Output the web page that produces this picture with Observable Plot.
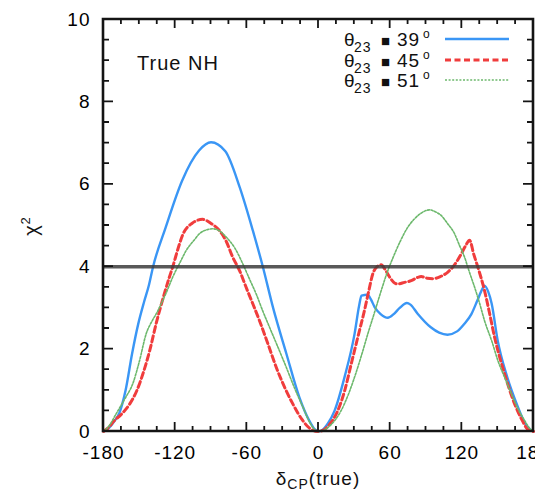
<!DOCTYPE html>
<html>
<head>
<meta charset="utf-8">
<script src="https://cdn.jsdelivr.net/npm/d3@7"></script>
<script src="https://cdn.jsdelivr.net/npm/@observablehq/plot@0.6"></script>
<style>
  html, body { margin: 0; padding: 0; background: #fff; }
</style>
</head>
<body>
<div id="chart"></div>
<script>
// ---- data ----
const xTicks = [-180, -120, -60, 0, 60, 120, 180];
const yTicks = [0, 2, 4, 6, 8, 10];
const threshold = [4];

const theta39 = [[-180,0],[-175,0.1],[-171,0.25],[-166.7,0.45],[-161.5,1.0],[-156,1.9],[-151,2.6],[-146,3.15],[-142,3.55],[-138.5,4.0],[-128,4.95],[-114,6.1],[-100,6.82],[-90,7.02],[-78,6.8],[-66,5.93],[-55,4.88],[-46.6,4.0],[-38,3.0],[-27,1.9],[-16,0.83],[-8,0.28],[-3,0.05],[0,0],
  [3,0.03],[8,0.2],[13.4,0.5],[21.8,1.32],[30.2,2.37],[34,3.05],[36,3.3],[41,3.32],[44,3.2],[47,3.02],[52,2.85],[58,2.76],[63,2.85],[68,3.0],[74,3.12],[77,3.08],[83,2.86],[94,2.53],[101,2.4],[108,2.35],[116,2.43],[122,2.61],[128,2.85],[133,3.18],[137,3.45],[139,3.54],[142,3.4],[145,3.1],[150,2.21],[158,1.32],[167,0.59],[172,0.25],[177,0.05],[180,0]];

const theta45 = [[-180,0],[-175,0.12],[-172,0.23],[-165,0.42],[-158,0.67],[-152,1.0],[-147,1.4],[-141,2.0],[-136,2.61],[-130,3.25],[-124.8,3.75],[-122,4.0],[-118,4.4],[-113.6,4.78],[-106,5.05],[-97,5.15],[-90,5.05],[-83,4.88],[-77,4.6],[-71.8,4.23],[-66,3.9],[-60.6,3.5],[-55,3.1],[-49.4,2.69],[-42,2.1],[-35.4,1.56],[-28,1.05],[-21.5,0.67],[-14,0.3],[-7.5,0.08],[0,0],
  [5,0.05],[10,0.2],[16.2,0.51],[22,1.0],[27.4,1.64],[33,2.3],[38.5,2.94],[42,3.4],[45.5,3.83],[49,4.0],[52.5,4.05],[56,3.92],[59.5,3.75],[63,3.62],[66.4,3.58],[72,3.62],[77.6,3.66],[83,3.74],[86,3.76],[91,3.72],[95.7,3.71],[102,3.76],[108.3,3.87],[114,4.05],[119.5,4.31],[123,4.5],[126.5,4.64],[130,4.3],[133.4,3.99],[139,3.42],[143,2.9],[147.4,2.29],[155.8,1.4],[164.2,0.67],[170,0.3],[175.3,0.05],[180,0]];

const theta51 = [[-180,0],[-175,0.15],[-169.4,0.43],[-162,0.8],[-155.5,1.16],[-150,1.7],[-144.3,2.37],[-139,2.7],[-135,2.9],[-133,3.02],[-127,3.4],[-122,3.75],[-116,4.1],[-110.8,4.39],[-104,4.65],[-99.7,4.8],[-93,4.9],[-88.5,4.92],[-83,4.87],[-77.3,4.72],[-70,4.45],[-63.4,4.07],[-57,3.65],[-52.2,3.34],[-47,2.95],[-41,2.53],[-34,2.05],[-27,1.56],[-20,1.05],[-13,0.59],[-7,0.2],[-3,0.04],[0,0],
  [5,0.04],[10,0.15],[19,0.51],[25,0.9],[30.2,1.32],[36,1.85],[41.3,2.37],[47,2.9],[52.5,3.42],[58,3.9],[63.7,4.31],[69,4.65],[74.8,4.96],[80,5.15],[86,5.3],[93,5.38],[98,5.33],[102.8,5.24],[108,5.05],[113.9,4.8],[118,4.52],[122.3,4.23],[126,3.9],[130.7,3.5],[135,3.1],[139,2.69],[145,2.2],[150.2,1.72],[156,1.3],[161.4,0.92],[167,0.55],[172.5,0.27],[177,0.07],[180,0]];

const seriesLabels = ["39", "45", "51"];
const seriesData = [theta39, theta45, theta51];

// ---- layout / styles ----
const W = 535, H = 492;
const mL = 103, mR = 2, mT = 19, mB = 61;
const xDom = [-180, 180], yDom = [0, 10];

const styles = [
  {stroke: "#3a96f5", strokeWidth: 2.4, strokeDasharray: null},
  {stroke: "#f03c3c", strokeWidth: 3, strokeDasharray: "6,3.5"},
  {stroke: "#6cb86c", strokeWidth: 1.6, strokeDasharray: "2,1.6"}
];

const xMinor = d3.range(-180, 181, 15);
const yMinor = d3.range(0, 10.01, 0.5);

const lineMarks = seriesData.map((data, i) => Plot.line(data, {
  x: d => d[0], y: d => d[1],
  stroke: styles[i].stroke, strokeWidth: styles[i].strokeWidth,
  strokeDasharray: styles[i].strokeDasharray || undefined,
  curve: "monotone-x"
}));

const svg = Plot.plot({
  width: W, height: H,
  marginLeft: mL, marginRight: mR, marginTop: mT, marginBottom: mB,
  x: {domain: xDom, ticks: xTicks, tickSize: 0, tickPadding: 14, tickFormat: d => String(d), label: null},
  y: {domain: yDom, ticks: yTicks, tickSize: 0, tickPadding: 13, tickFormat: d => String(d), label: null},
  marks: [
    ...lineMarks,
    Plot.ruleY(threshold, {stroke: "#3c3c3c", strokeWidth: 3.5, strokeOpacity: 0.85})
  ]
});
const font = "'Liberation Sans', Arial, sans-serif";
svg.setAttribute("font-family", font);
svg.setAttribute("font-size", "19");
svg.setAttribute("letter-spacing", "1");
document.getElementById("chart").appendChild(svg);

// ---- frame and inward ticks, positioned through Plot's own scales ----
const sx = svg.scale("x").apply, sy = svg.scale("y").apply;
const s = d3.select(svg);
const X0 = sx(-180), X1 = sx(180), Y0 = sy(0), Y1 = sy(10);
let p = "";
xMinor.forEach(v => {
  const L = (v % 60 === 0) ? 9 : 5, xx = sx(v);
  p += `M${xx},${Y0}V${Y0 - L}M${xx},${Y1}V${Y1 + L}`;
});
yMinor.forEach(v => {
  const L = (v % 2 === 0) ? 10 : 6, yy = sy(v);
  p += `M${X0},${yy}H${X0 + L}M${X1},${yy}H${X1 - L}`;
});
const axisG = s.append("g").attr("fill", "none").attr("stroke", "#141414");
axisG.append("path").attr("d", p).attr("stroke-width", 1.8);
axisG.append("path").attr("d", `M${X0},${Y1}H${X1}V${Y0}H${X0}Z`).attr("stroke-width", 2.6);

// ---- annotations (real text) ----
s.append("text").attr("x", 137).attr("y", 70).attr("text-anchor", "start").attr("font-family", font)
  .attr("font-size", 20).attr("fill", "#111").text("True NH");

const rowY = [39, 60, 80];
seriesLabels.forEach((lab, i) => {
  const base = rowY[i] + 6.5;
  const t = s.append("text").attr("text-anchor", "start").attr("font-family", font).attr("fill", "#111").attr("font-size", 19);
  t.append("tspan").attr("x", 344).attr("y", base).text("θ");
  t.append("tspan").attr("x", 354).attr("y", base + 6).attr("font-size", 14).text("23");
  t.append("tspan").attr("x", 381).attr("y", base).attr("font-size", 15).text("■");
  t.append("tspan").attr("x", 397).attr("y", base).text(lab);
  t.append("tspan").attr("x", 423).attr("y", base - 8).attr("font-size", 12).text("o");
  const st = styles[i];
  const ln = s.append("line").attr("x1", 445).attr("x2", 509).attr("y1", rowY[i]).attr("y2", rowY[i])
    .attr("stroke", st.stroke).attr("stroke-width", st.strokeWidth);
  if (st.strokeDasharray) ln.attr("stroke-dasharray", st.strokeDasharray);
});

const yl = s.append("text").attr("transform", "translate(38,226) rotate(-90)")
  .attr("text-anchor", "middle").attr("font-family", font).attr("font-size", 20).attr("fill", "#111");
yl.append("tspan").text("χ");
yl.append("tspan").attr("dy", -8).attr("font-size", 13).text("2");

const xl = s.append("text").attr("x", 318).attr("y", 485).attr("text-anchor", "middle")
  .attr("font-family", font).attr("font-size", 19).attr("fill", "#111");
xl.append("tspan").text("δ");
xl.append("tspan").attr("dy", 4).attr("font-size", 14).text("CP");
xl.append("tspan").attr("dy", -4).text("(true)");
</script>
</body>
</html>
